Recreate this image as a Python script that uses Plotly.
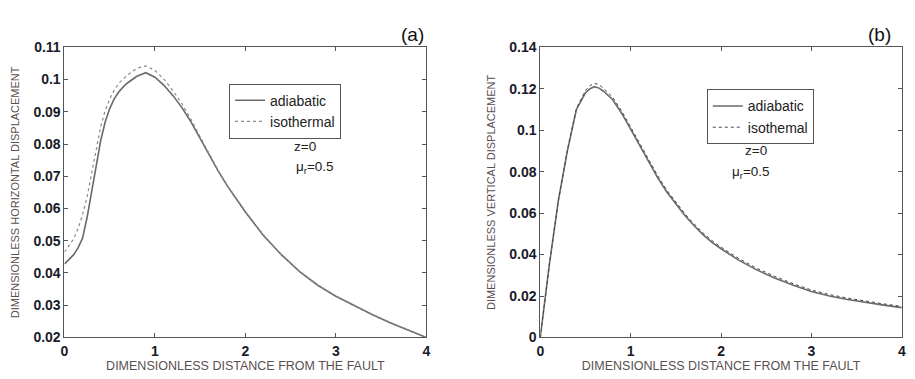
import plotly.graph_objects as go

# ---- data (a): horizontal displacement ----
xa_ad = [0.0, 0.1, 0.15, 0.2, 0.25, 0.3, 0.35, 0.4, 0.45, 0.5, 0.55, 0.6, 0.65, 0.7, 0.8, 0.9,
         1.0, 1.1, 1.2, 1.3, 1.4, 1.5, 1.6, 1.7, 1.8, 1.9, 2.0, 2.2, 2.4, 2.6, 2.8, 3.0,
         3.2, 3.4, 3.6, 3.8, 4.0]
a_adiabatic = [0.0428, 0.0456, 0.0478, 0.0508, 0.0572, 0.0648, 0.0730, 0.0810, 0.0868, 0.0910,
               0.0940, 0.0961, 0.0977, 0.0990, 0.1010, 0.1021,
               0.1007, 0.0982, 0.0950, 0.0912, 0.0868, 0.0817, 0.0766, 0.0716, 0.0670, 0.0628,
               0.0589, 0.0516, 0.0456, 0.0404, 0.0362, 0.0328, 0.0299, 0.0271, 0.0246, 0.0222,
               0.0200]
xa_is = [0.0, 0.05, 0.1, 0.15, 0.2, 0.25, 0.3, 0.35, 0.4, 0.45, 0.5, 0.55, 0.6, 0.7, 0.8, 0.9,
         1.0, 1.1, 1.2, 1.3, 1.4, 1.5, 1.6, 1.7, 1.8, 1.9, 2.0, 2.2, 2.4, 2.6, 2.8, 3.0,
         3.2, 3.4, 3.6, 3.8, 4.0]
a_isothermal = [0.0465, 0.0484, 0.0505, 0.0538, 0.0580, 0.0636, 0.0705, 0.0783, 0.0853, 0.0903,
                0.0940, 0.0967, 0.0988, 0.1015, 0.1035, 0.1042,
                0.1028, 0.1001, 0.0965, 0.0924, 0.0876, 0.0822, 0.0769, 0.0718, 0.0672, 0.0630,
                0.0591, 0.0518, 0.0457, 0.0405, 0.0363, 0.0329, 0.0300, 0.0272, 0.0247, 0.0223,
                0.0201]

# ---- data (b): vertical displacement ----
xb = [0.0, 0.1, 0.2, 0.3, 0.4, 0.5, 0.55, 0.6, 0.65, 0.7, 0.8, 0.9, 1.0, 1.1, 1.2, 1.3, 1.4,
      1.5, 1.6, 1.7, 1.8, 1.9, 2.0, 2.2, 2.4, 2.6, 2.8, 3.0, 3.2, 3.4, 3.6, 3.8, 4.0]
b_adiabatic = [0.0, 0.035, 0.066, 0.090, 0.110, 0.1180, 0.1200, 0.1210, 0.1203, 0.1188, 0.1148,
               0.1082, 0.1005, 0.0925, 0.0845, 0.0770, 0.0702, 0.0642, 0.0588, 0.0540, 0.0496,
               0.0459, 0.0428, 0.0372, 0.0325, 0.0286, 0.0252, 0.0222, 0.0200, 0.0183, 0.0168,
               0.0156, 0.0144]
b_isothermal = [0.0, 0.035, 0.066, 0.0905, 0.1105, 0.1192, 0.1215, 0.1226, 0.1220, 0.1202, 0.1160,
                0.1093, 0.1015, 0.0935, 0.0855, 0.0780, 0.0711, 0.0651, 0.0597, 0.0549, 0.0505,
                0.0467, 0.0436, 0.0380, 0.0333, 0.0294, 0.0259, 0.0229, 0.0207, 0.0190, 0.0175,
                0.0162, 0.0150]

a_yticks = [0.02, 0.03, 0.04, 0.05, 0.06, 0.07, 0.08, 0.09, 0.1, 0.11]
b_yticks = [0, 0.02, 0.04, 0.06, 0.08, 0.1, 0.12, 0.14]
x_ticks = [0, 1, 2, 3, 4]

W, H = 915, 379
fig = go.Figure()

solid = dict(color="#6a6a6a", width=1.6)
dotted_a = dict(color="#8a8a8a", width=1.2, dash="dot")
dotted_b = dict(color="#444444", width=1.0, dash="dot")

fig.add_trace(go.Scatter(x=xa_ad, y=a_adiabatic, mode="lines", line=solid, name="adiabatic",
                         xaxis="x", yaxis="y", legend="legend"))
fig.add_trace(go.Scatter(x=xa_is, y=a_isothermal, mode="lines", line=dotted_a, name="isothermal",
                         xaxis="x", yaxis="y", legend="legend"))
fig.add_trace(go.Scatter(x=xb, y=b_adiabatic, mode="lines", line=solid, name="adiabatic",
                         xaxis="x2", yaxis="y2", legend="legend2"))
fig.add_trace(go.Scatter(x=xb, y=b_isothermal, mode="lines", line=dotted_b, name="isothemal",
                         xaxis="x2", yaxis="y2", legend="legend2"))

tickfont = dict(family="Liberation Sans, Arial", size=14, color="#1a1a2a", weight="bold")
titlefont = dict(family="Liberation Sans, Arial", size=12.5, color="#5a5050")

def xax(domain, anchor):
    return dict(domain=domain, anchor=anchor, range=[0, 4], tickvals=x_ticks,
                ticks="inside", ticklen=4, tickcolor="#555", mirror="ticks",
                showline=True, linecolor="#555", linewidth=1, showgrid=False, zeroline=False,
                tickfont=tickfont, ticklabelstandoff=1,
                title=dict(text="DIMENSIONLESS DISTANCE FROM THE FAULT", font=titlefont, standoff=0))

def yax(domain, anchor, rng, ticks, title):
    return dict(domain=domain, anchor=anchor, range=rng, tickvals=ticks,
                ticktext=[("%g" % t) for t in ticks],
                ticks="inside", ticklen=4, tickcolor="#555", mirror="ticks",
                showline=True, linecolor="#555", linewidth=1, showgrid=False, zeroline=False,
                tickfont=tickfont,
                title=dict(text=title, font=dict(family="Liberation Sans Narrow, Liberation Sans, Arial",
                                                 size=11, color="#5a5050"), standoff=11))

ytop = 1 - 41 / H
ybot = 1 - 344 / H
legfont = dict(family="Liberation Sans, Arial", size=14, color="#222")
fig.update_layout(
    width=W, height=H, margin=dict(l=0, r=0, t=0, b=0),
    paper_bgcolor="white", plot_bgcolor="white",
    xaxis=xax([61 / W, 426 / W], "y"),
    yaxis=yax([ybot, ytop], "x", [0.02, 0.11], a_yticks, "DIMENSIONLESS HORIZONTAL DISPLACEMENT"),
    xaxis2=xax([541 / W, 905.7 / W], "y2"),
    yaxis2=yax([ybot, ytop], "x2", [0, 0.14], b_yticks, "DIMENSIONLESS VERTICAL DISPLACEMENT"),
    legend=dict(x=227 / W, y=1 - 79 / H, xanchor="left", yanchor="top",
                bordercolor="#555", borderwidth=1, bgcolor="white", font=legfont,
                tracegroupgap=0, itemwidth=30),
    legend2=dict(x=709 / W, y=1 - 85 / H, xanchor="left", yanchor="top",
                 bordercolor="#555", borderwidth=1, bgcolor="white", font=legfont,
                 tracegroupgap=0, itemwidth=30),
    showlegend=True,
)

ann_font = dict(family="Liberation Sans, Arial", size=13.5, color="#222")
fig.add_annotation(text="z=0", x=291 / W, y=1 - 145 / H, xref="paper", yref="paper",
                   showarrow=False, font=ann_font)
fig.add_annotation(text="μ<sub>r</sub>=0.5", x=293 / W, y=1 - 167 / H, xref="paper", yref="paper",
                   showarrow=False, font=ann_font)
fig.add_annotation(text="z=0", x=772 / W, y=1 - 149 / H, xref="paper", yref="paper",
                   showarrow=False, font=ann_font)
fig.add_annotation(text="μ<sub>r</sub>=0.5", x=775 / W, y=1 - 172 / H, xref="paper", yref="paper",
                   showarrow=False, font=ann_font)
lab_font = dict(family="Liberation Sans, Arial", size=19, color="#111")
fig.add_annotation(text="(a)", x=412 / W, y=1 - 15 / H, xref="paper", yref="paper",
                   showarrow=False, font=lab_font)
fig.add_annotation(text="(b)", x=897 / W, y=1 - 15 / H, xref="paper", yref="paper",
                   showarrow=False, font=lab_font)

fig.write_html("out.html")
